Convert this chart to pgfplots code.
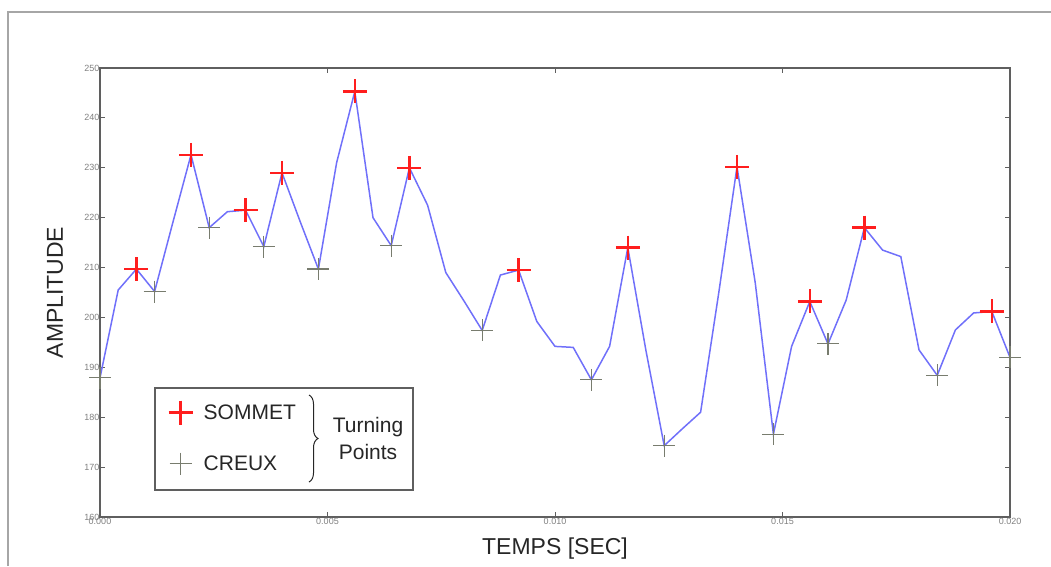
\documentclass[border=0pt]{standalone}
\usepackage{pgfplots}
\pgfplotsset{compat=1.18}
\usepackage{fontspec}
\setmainfont{Liberation Sans}
\usetikzlibrary{decorations.pathreplacing}
\definecolor{sigblue}{RGB}{112,112,250}
\definecolor{peakred}{RGB}{255,30,30}
\definecolor{troughgray}{RGB}{120,124,110}
\definecolor{framegray}{RGB}{95,95,95}
\pgfplotstableread{
t v
0.0000 187.9
0.0004 205.5
0.0008 209.7
0.0012 205.2
0.0016 219.0
0.0020 232.6
0.0024 218.0
0.0028 221.2
0.0032 221.5
0.0036 214.2
0.0040 229.0
0.0044 219.2
0.0048 209.7
0.0052 231.0
0.0056 245.3
0.0060 220.0
0.0064 214.4
0.0068 230.0
0.0072 222.5
0.0076 209.0
0.0080 203.3
0.0084 197.4
0.0088 208.5
0.0092 209.5
0.0096 199.2
0.0100 194.2
0.0104 194.0
0.0108 187.5
0.0112 194.2
0.0116 214.0
0.0120 193.3
0.0124 174.3
0.0128 177.7
0.0132 181.0
0.0136 205.0
0.0140 230.2
0.0144 207.0
0.0148 176.6
0.0152 194.2
0.0156 203.2
0.0160 194.7
0.0164 203.5
0.0168 218.0
0.0172 213.5
0.0176 212.2
0.0180 193.5
0.0184 188.4
0.0188 197.5
0.0192 200.9
0.0196 201.2
0.0200 192.0
}\signal
\pgfplotstableread{
t v
0.0008 209.7
0.0020 232.6
0.0032 221.5
0.0040 229.0
0.0056 245.3
0.0068 230.0
0.0092 209.5
0.0116 214.0
0.0140 230.2
0.0156 203.2
0.0168 218.0
0.0196 201.2
}\peaks
\pgfplotstableread{
t v
0.0000 187.9
0.0012 205.2
0.0024 218.0
0.0036 214.2
0.0048 209.7
0.0064 214.4
0.0084 197.4
0.0108 187.5
0.0124 174.3
0.0148 176.6
0.0160 194.7
0.0184 188.4
0.0200 192.0
}\troughs
\begin{document}
\begin{tikzpicture}
\useasboundingbox (0pt,0pt) rectangle (1051pt,-566pt);
\draw[gray!70, line width=1.2pt] (8pt,-566pt) -- (8pt,-12pt) -- (1051pt,-12pt);
\begin{axis}[
  scale only axis,
  width=910pt, height=449pt,
  at={(100pt,-517pt)}, anchor=south west,
  xmin=0, xmax=0.02, ymin=160, ymax=250,
  xtick={0,0.005,0.01,0.015,0.02},
  ytick={160,170,...,250},
  scaled x ticks=false,
  x tick label style={/pgf/number format/fixed, /pgf/number format/fixed zerofill, /pgf/number format/precision=3, yshift=2pt},
  /pgf/number format/assume math mode=true,
  tick label style={font=\fontsize{9}{10}\selectfont, text=gray},
  y tick label style={xshift=3pt},
  tick align=inside,
  major tick length=5pt,
  tick style={framegray, line width=0.8pt},
  axis line style={framegray, line width=1.5pt},
  xlabel={TEMPS [SEC]},
  ylabel={AMPLITUDE},
  every axis x label/.style={at={(axis description cs:0.5,-0.0713)}, anchor=center, font=\fontsize{23}{26}\selectfont, text=black!85},
  every axis y label/.style={at={(axis description cs:-0.0495,0.5)}, anchor=center, rotate=90, font=\fontsize{23}{26}\selectfont, text=black!85},
  legend style={draw=none, fill=none, font=\fontsize{21}{25}\selectfont,
    at={(axis description cs:0.0753,0.177)}, anchor=west,
    inner xsep=0pt, inner ysep=0pt, row sep=28pt, column sep=9pt,
    cells={anchor=west}, text=black!85},
  clip=false,
]
\addplot[sigblue, line width=1.5pt, forget plot] table[x=t,y=v] {\signal};
\addlegendimage{only marks, mark=+, mark size=12pt, peakred, line width=2.5pt}
\addlegendentry{SOMMET}
\addlegendimage{only marks, mark=+, mark size=11pt, troughgray, line width=1.2pt}
\addlegendentry{CREUX}
\addplot[only marks, mark=+, mark size=11pt, troughgray, line width=1.2pt, forget plot] table[x=t,y=v] {\troughs};
\addplot[only marks, mark=+, mark size=12pt, peakred, line width=2.5pt, forget plot] table[x=t,y=v] {\peaks};
\end{axis}
\draw[framegray, line width=1.2pt] (155pt,-388pt) rectangle (413pt,-490pt);
\draw[black!85, line width=1pt, decorate, decoration={brace, amplitude=9pt}] (309pt,-395pt) -- (309pt,-482pt);
\node[align=center, font=\fontsize{21}{27}\selectfont, text=black!85] at (368pt,-438.5pt) {Turning\\Points};
\end{tikzpicture}
\end{document}
